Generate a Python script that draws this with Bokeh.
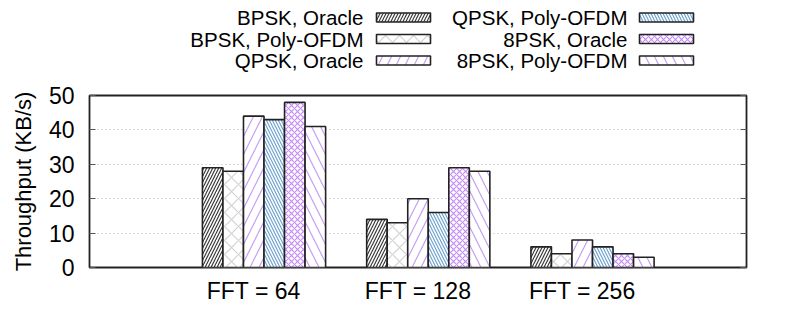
from bokeh.plotting import figure
from bokeh.layouts import column
from bokeh.models import Range1d, FixedTicker, LinearAxis, ColumnDataSource, CustomJSTickFormatter
from bokeh.core.properties import value
from bokeh.embed import file_html
from bokeh.resources import INLINE

# ---- data ----
groups = ["FFT = 64", "FFT = 128", "FFT = 256"]
series = ["BPSK, Oracle", "BPSK, Poly-OFDM", "QPSK, Oracle",
          "QPSK, Poly-OFDM", "8PSK, Oracle", "8PSK, Poly-OFDM"]
bpsk_oracle = [29, 14, 6]
bpsk_poly = [28, 13, 4]
qpsk_oracle = [44, 20, 8]
qpsk_poly = [43, 16, 6]
psk8_oracle = [48, 29, 4]
psk8_poly = [41, 28, 3]
values = [bpsk_oracle, bpsk_poly, qpsk_oracle, qpsk_poly, psk8_oracle, psk8_poly]
y_ticks = [0, 10, 20, 30, 40, 50]

# ---- styles ----
styles = [
    dict(hatch_pattern="/", hatch_color="#3a3a3a", hatch_scale=6, hatch_weight=1.2),
    dict(hatch_pattern="x", hatch_color="#d2d2d2", hatch_scale=14, hatch_weight=1.2),
    dict(hatch_pattern="/", hatch_color="#c69cf5", hatch_scale=18, hatch_weight=1.2),
    dict(hatch_pattern="\\", hatch_color="#6fa3d0", hatch_scale=6, hatch_weight=1.2),
    dict(hatch_pattern="x", hatch_color="#c58cf7", hatch_scale=6, hatch_weight=1.2),
    dict(hatch_pattern="\\", hatch_color="#c69cf5", hatch_scale=18, hatch_weight=1.2),
]
FONT = "Liberation Sans"
BORDER = "#222222"

n = len(series)
bw = 1.0 / (n + 2)

L, R = 89, 43          # left / right borders (frame spans 89..746)
LEG_H = 72

# ---- main plot ----
p = figure(width=789, height=244, output_backend="svg",
           toolbar_location=None, x_range=Range1d(-1, 3), y_range=Range1d(0, 50),
           min_border_left=L, min_border_right=R, min_border_top=23,
           min_border_bottom=49)

for j, (vals, st) in enumerate(zip(values, styles)):
    xs = [i + (j - (n - 1) / 2) * bw + bw / 2 for i in range(len(groups))]
    src = ColumnDataSource(dict(x=xs, top=vals))
    p.vbar(x="x", top="top", bottom=0, width=bw, source=src,
           fill_color="white", line_color=BORDER, line_width=1.6, **st)

p.outline_line_color = BORDER
p.outline_line_width = 1.8
p.xgrid.visible = False
p.ygrid.grid_line_color = "#b5b5b5"
p.ygrid.grid_line_dash = "1 3"
p.ygrid.grid_line_width = 1

ya = p.yaxis[0]
ya.ticker = FixedTicker(ticks=y_ticks)
ya.minor_tick_line_color = None
ya.major_tick_in = 6
ya.major_tick_out = 0
ya.major_tick_line_color = "#555555"
ya.axis_line_color = None
ya.major_label_text_font = FONT
ya.major_label_text_font_size = "23px"
ya.major_label_text_color = "black"
ya.major_label_standoff = 15
ya.axis_label = "Throughput (KB/s)"
ya.axis_label_text_font = FONT
ya.axis_label_text_font_size = "22px"
ya.axis_label_text_font_style = "normal"
ya.axis_label_text_color = "black"
ya.axis_label_standoff = 10

ra = LinearAxis(ticker=FixedTicker(ticks=y_ticks),
                formatter=CustomJSTickFormatter(code="return ''"))
ra.minor_tick_line_color = None
ra.major_tick_in = 6
ra.major_tick_out = 0
ra.major_tick_line_color = "#555555"
ra.axis_line_color = None
ra.major_label_standoff = 0
p.add_layout(ra, "right")

xa = p.xaxis[0]
xa.ticker = FixedTicker(ticks=list(range(len(groups))))
xa.major_label_overrides = {i: g for i, g in enumerate(groups)}
xa.major_tick_line_color = None
xa.minor_tick_line_color = None
xa.axis_line_color = None
xa.major_label_text_font = FONT
xa.major_label_text_font_size = "23px"
xa.major_label_text_color = "black"
xa.major_label_standoff = 4

# ---- legend (separate strip above, same frame width as the plot) ----
lg = figure(width=789, height=LEG_H, output_backend="svg", toolbar_location=None,
            x_range=Range1d(L, 789 - R), y_range=Range1d(LEG_H, 0),
            x_axis_type=None, y_axis_type=None,
            min_border_left=L, min_border_right=R,
            min_border_top=0, min_border_bottom=0)
lg.grid.visible = False
lg.outline_line_color = None

col_text_x = [363, 627]
col_swatch_x = [403, 666]
row_y = [17, 38.5, 60]
for j, (name, st) in enumerate(zip(series, styles)):
    c, r = divmod(j, 3)
    lg.text(x=[col_text_x[c]], y=[row_y[r]], text=[name],
            text_font=value(FONT), text_font_size="20.5px", text_color="black",
            text_align="right", text_baseline="middle")
    lg.rect(x=[col_swatch_x[c]], y=[row_y[r]], width=54, height=9,
            fill_color="white", line_color=BORDER, line_width=1.6, **st)

layout = column(lg, p, spacing=0)
open("out.html", "w").write(file_html(layout, INLINE))
